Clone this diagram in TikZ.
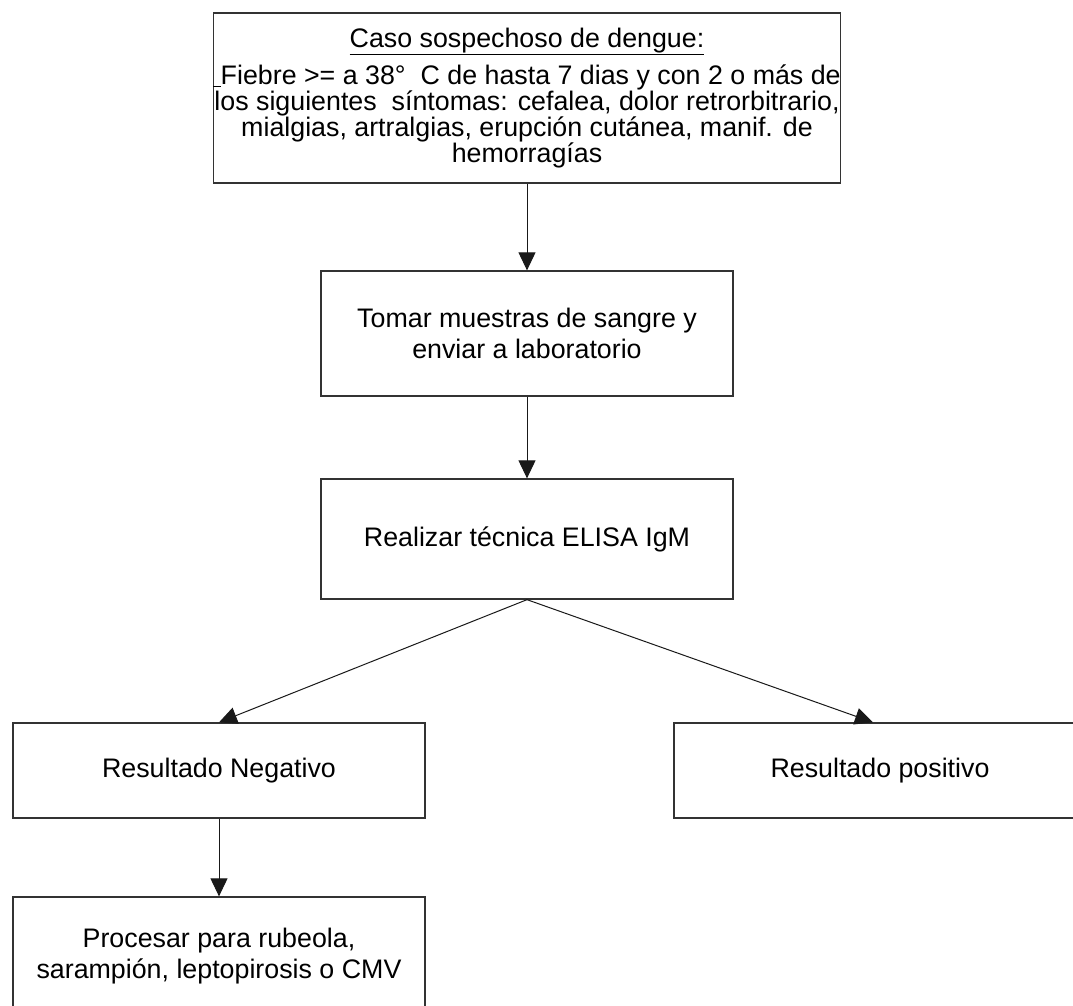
\documentclass[tikz,border=0pt]{standalone}
\usepackage{fontspec}
\setmainfont{Liberation Sans}
\usetikzlibrary{arrows.meta,calc}
\begin{document}
\begin{tikzpicture}[x=1pt,y=-1pt,
  box/.style={draw=black!80, line width=1.3pt, inner sep=0pt, align=center,
              font=\fontsize{26.8}{31}\selectfont},
  link/.style={draw=black!90, line width=1pt,
               -{Triangle[length=18pt,width=17pt]}}]
\useasboundingbox (0,0) rectangle (1073,1005);
\clip (0,0) rectangle (1073,1005);

% boxes
\node[box, minimum width=434pt, minimum height=170pt,
      font=\fontsize{26.8}{26}\selectfont] (caso) at (527,98)
  {\underline{Caso sospechoso de dengue:}\\[9pt]
   \underline{\ }Fiebre >= a 38°\ \ C de hasta 7 dias y con 2 o más de\\
   los siguientes\ \ síntomas: cefalea, dolor retrorbitrario,\\
   mialgias, artralgias, erupción cutánea, manif. de\\
   hemorragías};
\node[box, minimum width=412pt, minimum height=125pt] (muestra) at (527,333.5)
  {Tomar muestras de sangre y\\ enviar a laboratorio};
\node[box, minimum width=412pt, minimum height=120pt] (elisa) at (527,539)
  {Realizar técnica ELISA IgM};
\node[box, minimum width=412pt, minimum height=95pt] (neg) at (219,770.5)
  {Resultado Negativo};
\node[box, minimum width=412pt, minimum height=95pt] (pos) at (880,770.5)
  {Resultado positivo};
\node[box, minimum width=412pt, minimum height=118pt] (proc) at (219,956)
  {Procesar para rubeola,\\ sarampión, leptopirosis o CMV};

% connectors
\draw[link] (caso.south) -- (muestra.north);
\draw[link] (muestra.south) -- (elisa.north);
\draw[link] (elisa.south) -- (neg.north);
\draw[link] (elisa.south) -- ($(pos.north west)!0.483!(pos.north east)$);
\draw[link] (neg.south) -- (proc.north);
\end{tikzpicture}
\end{document}
